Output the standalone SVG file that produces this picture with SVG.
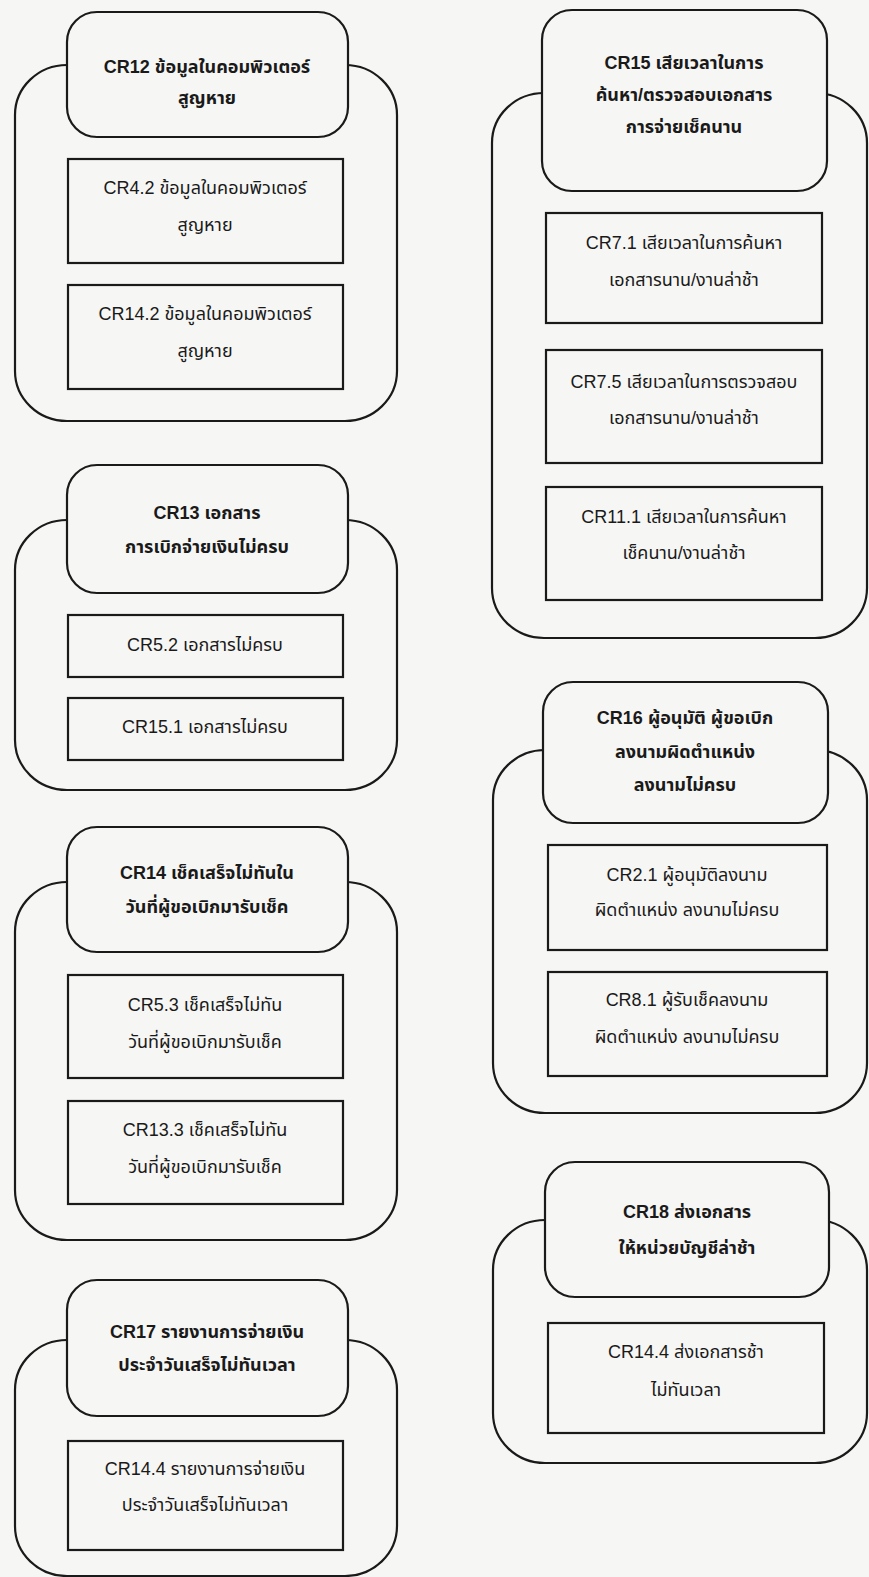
<svg xmlns="http://www.w3.org/2000/svg" width="869" height="1577" viewBox="0 0 869 1577">
  <style>
    .bg { fill: #f6f6f4; }
    .outer { fill: #f6f6f4; stroke: #1a1a1a; stroke-width: 2.2; }
    .head { fill: #f6f6f4; stroke: #1a1a1a; stroke-width: 2.2; }
    .item { fill: #f6f6f4; stroke: #1a1a1a; stroke-width: 2.2; }
    text { font-family: "Liberation Sans", "Noto Sans Thai", "Noto Sans", "DejaVu Sans", sans-serif; font-size: 18px; fill: #1a1a1a; text-anchor: middle; }
    .ht { font-weight: bold; }
  </style>
  <rect class="bg" x="0" y="0" width="869" height="1577"/>

  <!-- left column -->
  <g id="cr12">
    <rect class="outer" x="15" y="65" width="382" height="356" rx="52" ry="50"/>
    <rect class="head" x="67" y="12" width="281" height="125" rx="30" ry="30"/>
    <text class="ht" x="207" y="73">CR12 ข้อมูลในคอมพิวเตอร์</text>
    <text class="ht" x="207" y="104">สูญหาย</text>
    <rect class="item" x="68" y="159" width="275" height="104"/>
    <text x="205" y="194">CR4.2 ข้อมูลในคอมพิวเตอร์</text>
    <text x="205" y="231">สูญหาย</text>
    <rect class="item" x="68" y="285" width="275" height="104"/>
    <text x="205" y="320">CR14.2 ข้อมูลในคอมพิวเตอร์</text>
    <text x="205" y="357">สูญหาย</text>
  </g>

  <g id="cr13">
    <rect class="outer" x="15" y="520" width="382" height="270" rx="52" ry="50"/>
    <rect class="head" x="67" y="465" width="281" height="128" rx="30" ry="30"/>
    <text class="ht" x="207" y="519">CR13 เอกสาร</text>
    <text class="ht" x="207" y="553">การเบิกจ่ายเงินไม่ครบ</text>
    <rect class="item" x="68" y="615" width="275" height="62"/>
    <text x="205" y="651">CR5.2 เอกสารไม่ครบ</text>
    <rect class="item" x="68" y="698" width="275" height="62"/>
    <text x="205" y="733">CR15.1 เอกสารไม่ครบ</text>
  </g>

  <g id="cr14">
    <rect class="outer" x="15" y="882" width="382" height="358" rx="52" ry="50"/>
    <rect class="head" x="67" y="827" width="281" height="125" rx="30" ry="30"/>
    <text class="ht" x="207" y="879">CR14 เช็คเสร็จไม่ทันใน</text>
    <text class="ht" x="207" y="913">วันที่ผู้ขอเบิกมารับเช็ค</text>
    <rect class="item" x="68" y="975" width="275" height="103"/>
    <text x="205" y="1011">CR5.3 เช็คเสร็จไม่ทัน</text>
    <text x="205" y="1048">วันที่ผู้ขอเบิกมารับเช็ค</text>
    <rect class="item" x="68" y="1101" width="275" height="103"/>
    <text x="205" y="1136">CR13.3 เช็คเสร็จไม่ทัน</text>
    <text x="205" y="1173">วันที่ผู้ขอเบิกมารับเช็ค</text>
  </g>

  <g id="cr17">
    <rect class="outer" x="15" y="1340" width="382" height="236" rx="52" ry="50"/>
    <rect class="head" x="67" y="1280" width="281" height="136" rx="30" ry="30"/>
    <text class="ht" x="207" y="1338">CR17 รายงานการจ่ายเงิน</text>
    <text class="ht" x="207" y="1371">ประจำวันเสร็จไม่ทันเวลา</text>
    <rect class="item" x="68" y="1441" width="275" height="109"/>
    <text x="205" y="1475">CR14.4 รายงานการจ่ายเงิน</text>
    <text x="205" y="1511">ประจำวันเสร็จไม่ทันเวลา</text>
  </g>

  <!-- right column -->
  <g id="cr15">
    <rect class="outer" x="492" y="93" width="375" height="545" rx="52" ry="50"/>
    <rect class="head" x="542" y="10" width="285" height="181" rx="30" ry="30"/>
    <text class="ht" x="684" y="69">CR15 เสียเวลาในการ</text>
    <text class="ht" x="684" y="101">ค้นหา/ตรวจสอบเอกสาร</text>
    <text class="ht" x="684" y="133">การจ่ายเช็คนาน</text>
    <rect class="item" x="546" y="213" width="276" height="110"/>
    <text x="684" y="249">CR7.1 เสียเวลาในการค้นหา</text>
    <text x="684" y="286">เอกสารนาน/งานล่าช้า</text>
    <rect class="item" x="546" y="350" width="276" height="113"/>
    <text x="684" y="388">CR7.5 เสียเวลาในการตรวจสอบ</text>
    <text x="684" y="424">เอกสารนาน/งานล่าช้า</text>
    <rect class="item" x="546" y="487" width="276" height="113"/>
    <text x="684" y="523">CR11.1 เสียเวลาในการค้นหา</text>
    <text x="684" y="559">เช็คนาน/งานล่าช้า</text>
  </g>

  <g id="cr16">
    <rect class="outer" x="493" y="750" width="374" height="363" rx="52" ry="50"/>
    <rect class="head" x="543" y="682" width="285" height="141" rx="30" ry="30"/>
    <text class="ht" x="685" y="724">CR16 ผู้อนุมัติ ผู้ขอเบิก</text>
    <text class="ht" x="685" y="758">ลงนามผิดตำแหน่ง</text>
    <text class="ht" x="685" y="791">ลงนามไม่ครบ</text>
    <rect class="item" x="548" y="845" width="279" height="105"/>
    <text x="687" y="881">CR2.1 ผู้อนุมัติลงนาม</text>
    <text x="687" y="916">ผิดตำแหน่ง ลงนามไม่ครบ</text>
    <rect class="item" x="548" y="972" width="279" height="104"/>
    <text x="687" y="1006">CR8.1 ผู้รับเช็คลงนาม</text>
    <text x="687" y="1043">ผิดตำแหน่ง ลงนามไม่ครบ</text>
  </g>

  <g id="cr18">
    <rect class="outer" x="493" y="1220" width="374" height="243" rx="52" ry="50"/>
    <rect class="head" x="545" y="1162" width="284" height="135" rx="30" ry="30"/>
    <text class="ht" x="687" y="1218">CR18 ส่งเอกสาร</text>
    <text class="ht" x="687" y="1254">ให้หน่วยบัญชีล่าช้า</text>
    <rect class="item" x="548" y="1323" width="276" height="110"/>
    <text x="686" y="1358">CR14.4 ส่งเอกสารช้า</text>
    <text x="686" y="1396">ไม่ทันเวลา</text>
  </g>

  <g id="connectors"/>
</svg>
